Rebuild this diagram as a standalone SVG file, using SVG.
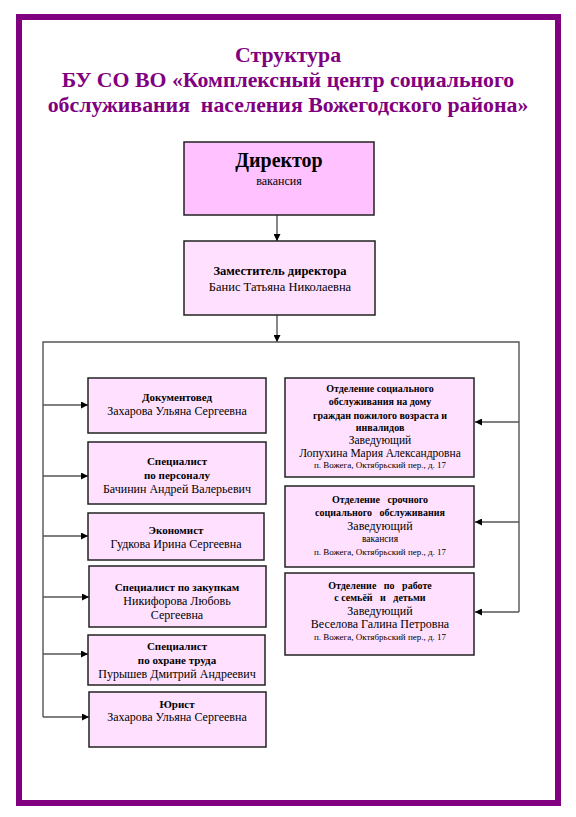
<svg xmlns="http://www.w3.org/2000/svg" width="576" height="817" viewBox="0 0 576 817">
<style>
.t{font-family:"Liberation Serif","Times New Roman",serif;text-anchor:middle;fill:#000}
.b{font-weight:bold}
.title{font-family:"Liberation Serif","Times New Roman",serif;font-weight:bold;font-size:21.8px;fill:#800080;text-anchor:middle}
.box{fill:#FFE1FF;stroke:#222;stroke-width:1.5}
.dir{fill:#FFC1FF;stroke:#222;stroke-width:1.5}
.ln{fill:none;stroke:#555;stroke-width:1.4}
</style>
<defs>
<marker id="ah" viewBox="0 0 10 10" refX="10" refY="5" markerWidth="7" markerHeight="7" markerUnits="userSpaceOnUse" orient="auto">
<path d="M0,0 L10,5 L0,10 z" fill="#000"/>
</marker>
</defs>
<rect width="576" height="817" fill="#fff"/>
<rect x="19" y="17" width="539" height="786" fill="none" stroke="#800080" stroke-width="6"/>
<g id="title">
<text class="title" x="288" y="62">Структура</text>
<text class="title" x="288" y="87">БУ СО ВО «Комплексный центр социального</text>
<text class="title" x="288" y="112" xml:space="preserve">обслуживания  населения Вожегодского района»</text>
</g>
<g id="connectors">
<line class="ln" x1="277" y1="215" x2="277" y2="241" marker-end="url(#ah)"/>
<line class="ln" x1="277" y1="315" x2="277" y2="342" marker-end="url(#ah)"/>
<polyline class="ln" points="43,717 43,342 519,342 519,612"/>
<line class="ln" x1="43" y1="405" x2="88" y2="405" marker-end="url(#ah)"/>
<line class="ln" x1="43" y1="476" x2="88" y2="476" marker-end="url(#ah)"/>
<line class="ln" x1="43" y1="536" x2="88" y2="536" marker-end="url(#ah)"/>
<line class="ln" x1="43" y1="597" x2="89" y2="597" marker-end="url(#ah)"/>
<line class="ln" x1="43" y1="654" x2="88" y2="654" marker-end="url(#ah)"/>
<line class="ln" x1="43" y1="717" x2="89" y2="717" marker-end="url(#ah)"/>
<line class="ln" x1="519" y1="422" x2="475" y2="422" marker-end="url(#ah)"/>
<line class="ln" x1="519" y1="522" x2="475" y2="522" marker-end="url(#ah)"/>
<line class="ln" x1="519" y1="612" x2="475" y2="612" marker-end="url(#ah)"/>
</g>
<g id="director">
<rect class="dir" x="184" y="142" width="190" height="73"/>
<text class="t b" x="279" y="167" font-size="20">Директор</text>
<text class="t" x="279" y="185" font-size="12">вакансия</text>
</g>
<g id="deputy">
<rect class="box" x="184" y="241" width="191" height="74"/>
<text class="t b" x="280" y="275" font-size="12.5">Заместитель директора</text>
<text class="t" x="280" y="291" font-size="12.5">Банис Татьяна Николаевна</text>
</g>
<g id="docs">
<rect class="box" x="88" y="378" width="178" height="55"/>
<text class="t b" x="177" y="401" font-size="11">Документовед</text>
<text class="t" x="177" y="415" font-size="12">Захарова Ульяна Сергеевна</text>
</g>
<g id="personnel">
<rect class="box" x="88" y="442" width="178" height="62"/>
<text class="t b" x="177" y="465" font-size="11">Специалист</text>
<text class="t b" x="177" y="479" font-size="11">по персоналу</text>
<text class="t" x="177" y="493" font-size="12">Бачинин Андрей Валерьевич</text>
</g>
<g id="economist">
<rect class="box" x="88" y="513" width="176" height="47"/>
<text class="t b" x="176" y="534" font-size="11">Экономист</text>
<text class="t" x="176" y="548" font-size="12">Гудкова Ирина Сергеевна</text>
</g>
<g id="purchases">
<rect class="box" x="89" y="566" width="177" height="61"/>
<text class="t b" x="177" y="591" font-size="11">Специалист по закупкам</text>
<text class="t" x="177" y="605" font-size="12">Никифорова Любовь</text>
<text class="t" x="177" y="619" font-size="12">Сергеевна</text>
</g>
<g id="safety">
<rect class="box" x="88" y="635" width="177" height="50"/>
<text class="t b" x="177" y="650" font-size="11">Специалист</text>
<text class="t b" x="177" y="664" font-size="11">по охране труда</text>
<text class="t" x="177" y="678" font-size="12">Пурышев Дмитрий Андреевич</text>
</g>
<g id="lawyer">
<rect class="box" x="89" y="692" width="177" height="55"/>
<text class="t b" x="177" y="708" font-size="11">Юрист</text>
<text class="t" x="177" y="721" font-size="12">Захарова Ульяна Сергеевна</text>
</g>
<g id="dept1">
<rect class="box" x="285" y="378" width="189" height="99"/>
<text class="t b" x="380" y="392" font-size="10">Отделение социального</text>
<text class="t b" x="380" y="405" font-size="10">обслуживания на дому</text>
<text class="t b" x="380" y="419" font-size="10">граждан пожилого возраста и</text>
<text class="t b" x="380" y="431" font-size="10">инвалидов</text>
<text class="t" x="380" y="443.5" font-size="11.5">Заведующий</text>
<text class="t" x="380" y="456.5" font-size="11.5">Лопухина Мария Александровна</text>
<text class="t" x="380" y="468" font-size="9">п. Вожега, Октябрьский пер., д. 17</text>
</g>
<g id="dept2">
<rect class="box" x="285" y="486" width="189" height="81"/>
<text class="t b" x="380" y="503" font-size="10" xml:space="preserve">Отделение   срочного</text>
<text class="t b" x="380" y="516" font-size="10" xml:space="preserve">социального   обслуживания</text>
<text class="t" x="380" y="530" font-size="12">Заведующий</text>
<text class="t" x="380" y="542" font-size="9.5">вакансия</text>
<text class="t" x="380" y="555" font-size="9">п. Вожега, Октябрьский пер., д. 17</text>
</g>
<g id="dept3">
<rect class="box" x="285" y="573" width="189" height="82"/>
<text class="t b" x="380" y="589" font-size="10" xml:space="preserve">Отделение   по   работе</text>
<text class="t b" x="380" y="601" font-size="10" xml:space="preserve">с семьёй   и   детьми</text>
<text class="t" x="380" y="615" font-size="12">Заведующий</text>
<text class="t" x="380" y="628" font-size="12">Веселова Галина Петровна</text>
<text class="t" x="380" y="640" font-size="9">п. Вожега, Октябрьский пер., д. 17</text>
</g>
</svg>
